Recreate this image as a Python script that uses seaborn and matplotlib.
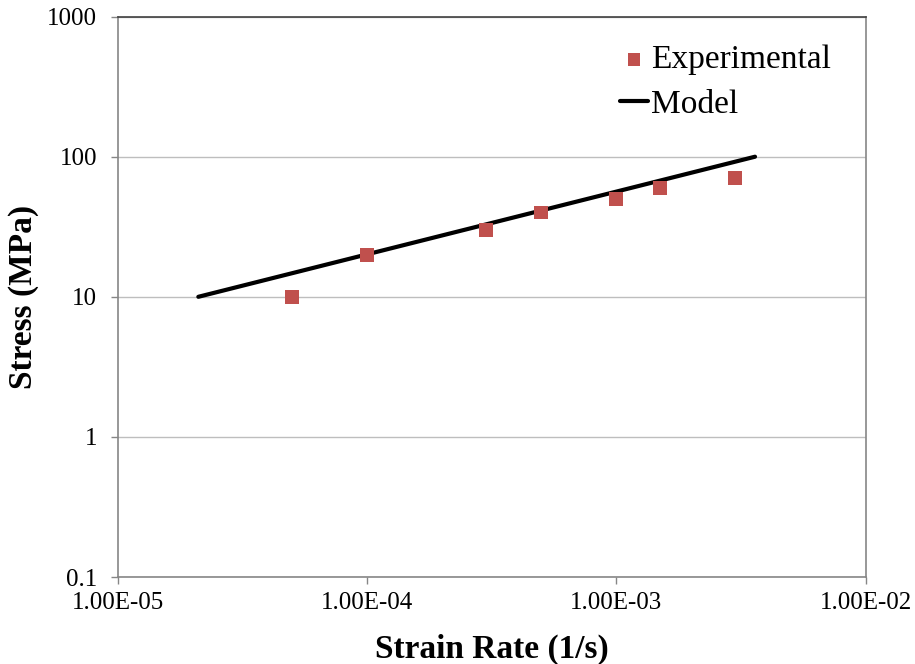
import numpy as np
import pandas as pd
import matplotlib
matplotlib.use("Agg")
import matplotlib.pyplot as plt
import seaborn as sns
from matplotlib.ticker import FixedLocator, NullLocator

# Experimental data
exp_rate = [5e-5, 1e-4, 3e-4, 5e-4, 1e-3, 1.5e-3, 3e-3]
exp_stress = [10, 20, 30, 40, 50, 60, 70]

# Model line (power law, straight on log-log)
model_rate = [2.1e-5, 3.6e-3]
model_stress = [10, 100]

x_ticks = [1e-5, 1e-4, 1e-3, 1e-2]
x_labels = ["1.00E-05", "1.00E-04", "1.00E-03", "1.00E-02"]
y_ticks = [0.1, 1, 10, 100, 1000]
y_labels = ["0.1", "1", "10", "100", "1000"]

sns.set_style("white")
plt.rcParams["font.family"] = ["Liberation Serif", "DejaVu Serif"]
plt.rcParams["text.color"] = "black"
plt.rcParams["axes.labelcolor"] = "black"

exp_df = pd.DataFrame({"rate": exp_rate, "stress": exp_stress})
model_df = pd.DataFrame({"rate": model_rate, "stress": model_stress})

fig = plt.figure(figsize=(9.15, 6.64), dpi=100)
ax = fig.add_axes([0.129, 0.131, 0.817, 0.844])

ax.set_xscale("log")
ax.set_yscale("log")
ax.set_xlim(1e-5, 1e-2)
ax.set_ylim(0.1, 1000)

for y in y_ticks:
    ax.axhline(y, color="#BEBEBE", lw=1.0, zorder=0)

sns.lineplot(data=model_df, x="rate", y="stress", ax=ax, color="black",
             lw=3.0, label="Model", zorder=2, legend=False)
sns.scatterplot(data=exp_df, x="rate", y="stress", ax=ax, marker="s",
                s=100, color="#C0504D", edgecolor="none", label="Experimental",
                zorder=3, legend=False)

ax.xaxis.set_major_locator(FixedLocator(x_ticks))
ax.xaxis.set_minor_locator(NullLocator())
ax.set_xticklabels(x_labels)
ax.yaxis.set_major_locator(FixedLocator(y_ticks))
ax.yaxis.set_minor_locator(NullLocator())
ax.set_yticklabels(y_labels)

ax.tick_params(axis="both", which="major", direction="out", length=5,
               width=1, color="#868686", labelsize=18, labelcolor="black")
ax.tick_params(axis="x", pad=6)
ax.tick_params(axis="y", pad=10)
ax.tick_params(axis="both", which="both", bottom=True, left=True)

for side in ["left", "bottom", "right", "top"]:
    ax.spines[side].set_color("#868686")
    ax.spines[side].set_linewidth(1.2)
ax.spines["top"].set_color("#404040")

ax.set_xlabel("Strain Rate (1/s)", fontsize=24, fontweight="bold", labelpad=14)
ax.set_ylabel("Stress (MPa)", fontsize=24, fontweight="bold", labelpad=6)

handles, labels = ax.get_legend_handles_labels()
order = [labels.index("Experimental"), labels.index("Model")]
ax.legend([handles[i] for i in order], [labels[i] for i in order],
          loc="upper left", bbox_to_anchor=(0.671, 0.95), frameon=False,
          borderaxespad=0, borderpad=0,
          fontsize=24, handlelength=0.85, handletextpad=0.08, labelspacing=0.42,
          markerscale=0.9)

fig.savefig("out.png", dpi=100)
